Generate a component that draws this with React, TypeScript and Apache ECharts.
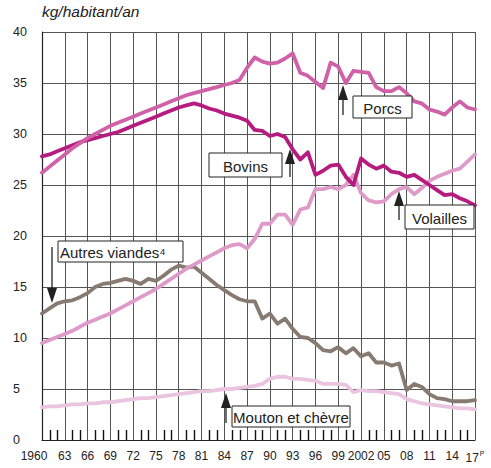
import React, { useEffect, useRef } from "react";
import * as echarts from "echarts";

// Years 1960 .. 2017 (index = year - 1960)
const startYear = 1960;
const endYear = 2017;

const porcs = [
  26.2, 26.8, 27.4, 28.0, 28.6, 29.1, 29.6, 30.0, 30.4, 30.8,
  31.1, 31.4, 31.7, 32.0, 32.3, 32.6, 32.9, 33.2, 33.5, 33.8,
  34.0, 34.2, 34.4, 34.6, 34.8, 35.0, 35.3, 36.5, 37.5, 37.1,
  36.9, 37.0, 37.4, 37.9, 36.0, 35.7, 35.1, 34.5, 37.0, 36.6,
  35.0, 36.2, 36.1, 36.0, 34.6, 34.2, 34.2, 34.6, 34.0, 33.2,
  33.0, 32.4, 32.2, 31.9, 32.6, 33.2, 32.6, 32.4,
];

const bovins = [
  27.8, 28.0, 28.3, 28.6, 28.9, 29.2, 29.4, 29.6, 29.8, 30.0,
  30.2, 30.5, 30.8, 31.1, 31.4, 31.7, 32.0, 32.3, 32.6, 32.8,
  33.0, 32.8, 32.5, 32.3, 32.0, 31.8, 31.6, 31.3, 30.4, 30.3,
  29.8, 30.0, 29.7, 28.5, 27.5, 28.2, 26.0, 26.4, 26.9, 27.0,
  25.8, 25.0, 27.6, 27.0, 26.6, 26.9, 26.3, 26.2, 25.8, 26.0,
  25.5, 25.0, 24.5, 24.0, 24.1, 23.7, 23.4, 23.0,
];

const volailles = [
  9.5, 9.8, 10.1, 10.4, 10.7, 11.1, 11.5, 11.8, 12.1, 12.4,
  12.8, 13.2, 13.6, 14.0, 14.4, 14.8, 15.3, 15.8, 16.3, 16.8,
  17.2, 17.6, 18.0, 18.4, 18.8, 19.1, 19.2, 18.8, 19.7, 21.2,
  21.2, 22.1, 22.1, 21.1, 22.6, 22.8, 24.6, 24.6, 24.8, 24.6,
  25.0, 26.0, 24.2, 23.5, 23.3, 23.4, 24.1, 24.6, 24.8, 24.1,
  24.7, 25.4, 25.8, 26.1, 26.4, 26.6, 27.3, 28.0,
];

const autresViandes = [
  12.4, 12.9, 13.4, 13.6, 13.7, 14.0, 14.4, 15.0, 15.3, 15.4,
  15.6, 15.8, 15.6, 15.3, 15.8, 15.6, 16.1, 16.7, 17.1, 16.9,
  17.0, 16.4, 15.8, 15.2, 14.7, 14.2, 13.8, 13.6, 13.6, 11.9,
  12.4, 11.4, 11.9, 10.9, 10.1, 10.0, 9.5, 8.8, 8.7, 9.1,
  8.5, 9.0, 8.2, 8.5, 7.6, 7.6, 7.3, 7.5, 4.9, 5.5,
  5.2, 4.5, 4.1, 4.0, 3.8, 3.8, 3.8, 3.9,
];

const moutonChevre = [
  3.2, 3.3, 3.3, 3.4, 3.5, 3.5, 3.6, 3.6, 3.7, 3.7,
  3.8, 3.9, 4.0, 4.1, 4.1, 4.2, 4.3, 4.4, 4.5, 4.6,
  4.7, 4.8, 4.8, 4.9, 5.0, 5.0, 5.1, 5.2, 5.3, 5.5,
  6.0, 6.2, 6.2, 6.0, 6.0, 5.9, 5.8, 5.5, 5.5, 5.5,
  5.4, 4.7, 4.9, 4.8, 4.8, 4.7, 4.6, 4.5, 4.0, 3.8,
  3.6, 3.5, 3.4, 3.3, 3.2, 3.1, 3.1, 3.0,
];

const seriesNames = ["Mouton et chèvre", "Autres viandes", "Volailles", "Bovins", "Porcs"];
const seriesColors = ["#ebc4df", "#877a70", "#de9bca", "#b61c80", "#d061a8"];

const yMin = 0;
const yMax = 40;
const yStep = 5;
const xStep = 3;

const FONT = "'Liberation Sans', Arial, Helvetica, sans-serif";

const GRID = { left: 42, right: 16, top: 32, bottom: 28 };
const CHART_W = 491;
const CHART_H = 468;

function xLabel(offset: number): string {
  const year = startYear + offset;
  if (year === 1960) return "{first|1960}";
  if (year === 2002) return "2002";
  if (year === endYear) return String(year % 100).padStart(2, "0") + "{p|P}";
  return String(year % 100).padStart(2, "0");
}

function labelBox(x: number, y: number, w: number, h: number, text: string, textX?: number) {
  return [
    {
      type: "rect",
      z: 100,
      shape: { x, y, width: w, height: h },
      style: { fill: "#ffffff", stroke: "#222222", lineWidth: 1 },
    },
    {
      type: "text",
      z: 101,
      x: textX !== undefined ? textX : x + w / 2,
      y: y + h / 2 + 1,
      style: {
        text,
        font: `15px ${FONT}`,
        fill: "#222222",
        align: textX !== undefined ? "left" : "center",
        verticalAlign: "middle",
      },
    },
  ];
}

function arrow(x: number, tipY: number, tailY: number) {
  const dir = tailY > tipY ? 1 : -1; // 1 => arrow points up
  const headLen = 15;
  const half = 5;
  const baseY = tipY + dir * headLen;
  return [
    {
      type: "line",
      z: 100,
      shape: { x1: x, y1: tailY, x2: x, y2: baseY - dir * 2 },
      style: { stroke: "#222222", lineWidth: 1.3 },
    },
    {
      type: "polygon",
      z: 100,
      shape: { points: [[x, tipY], [x - half, baseY], [x + half, baseY]] },
      style: { fill: "#222222" },
    },
  ];
}

export default function App() {
  const ref = useRef<HTMLDivElement>(null);

  useEffect(() => {
    if (!ref.current) return;
    const chart = echarts.init(ref.current, null, { renderer: "svg" });
    const allData = [moutonChevre, autresViandes, volailles, bovins, porcs];

    // yearly tick marks along the bottom axis (axis decoration)
    const nYears = endYear - startYear;
    const plotW = CHART_W - GRID.left - GRID.right;
    const axisY = CHART_H - GRID.bottom;
    const yearTicks: any[] = [];
    for (let i = 0; i <= nYears; i++) {
      if (i % xStep === 0) continue;
      const x = Math.round(GRID.left + (i / nYears) * plotW) + 0.5;
      yearTicks.push({
        type: "rect",
        z: 60,
        shape: { x: x - 0.7, y: axisY - 10, width: 1.4, height: 10 },
        style: { fill: "#111111" },
      });
    }

    const option: any = {
      animation: false,
      backgroundColor: "#ffffff",
      grid: { ...GRID, containLabel: false },
      xAxis: {
        type: "value",
        min: 0,
        max: nYears,
        interval: xStep,
        axisLine: { show: true, lineStyle: { color: "#222222", width: 1.2 } },
        axisTick: { show: false },
        splitLine: { show: true, lineStyle: { color: "#555555", width: 1 } },
        axisLabel: {
          formatter: xLabel,
          fontFamily: FONT,
          fontSize: 12,
          color: "#222222",
          margin: 10,
          rich: {
            first: { fontFamily: FONT, fontSize: 12, color: "#222", padding: [0, 16, 0, 0] },
            p: { fontFamily: FONT, fontSize: 7, color: "#222", verticalAlign: "top", padding: [0, 0, 8, 1] },
          },
        },
      },
      yAxis: {
        type: "value",
        min: yMin,
        max: yMax,
        interval: yStep,
        axisLine: { show: true, lineStyle: { color: "#222222", width: 1.2 } },
        axisTick: { show: false },
        splitLine: { show: true, lineStyle: { color: "#555555", width: 1 } },
        axisLabel: {
          fontFamily: FONT,
          fontSize: 12.5,
          color: "#222222",
          align: "left",
          margin: 29,
          padding: [0, 0, 7, 0],
        },
      },
      series: allData.map((arr, k) => ({
        name: seriesNames[k],
        type: "line",
        data: arr.map((v, i) => [i, v]),
        symbol: "none",
        smooth: false,
        z: 3 + k,
        lineStyle: { color: seriesColors[k], width: 3.8, join: "round", cap: "round" },
        itemStyle: { color: seriesColors[k] },
      })),
      graphic: [
        ...yearTicks,
        {
          type: "text",
          z: 100,
          x: 42,
          y: 3,
          style: {
            text: "kg/habitant/an",
            font: `italic 15.5px ${FONT}`,
            fill: "#222222",
          },
        },
        ...labelBox(353, 96, 59, 22, "Porcs"),
        ...arrow(343, 85, 115),
        ...labelBox(209, 153, 73, 24, "Bovins"),
        ...arrow(290, 149, 177),
        ...labelBox(405, 205, 69, 24, "Volailles"),
        ...arrow(399, 191, 220),
        ...labelBox(58, 241, 125, 21, "Autres viandes⁴", 60),
        ...arrow(52, 303, 247),
        ...labelBox(232, 406, 118, 21, "Mouton et chèvre"),
        ...arrow(226, 393, 423),
      ],
    };

    chart.setOption(option);
    return () => chart.dispose();
  }, []);

  return (
    <div
      ref={ref}
      style={{ position: "fixed", left: 0, top: 0, width: CHART_W, height: CHART_H, background: "#fff" }}
    />
  );
}
